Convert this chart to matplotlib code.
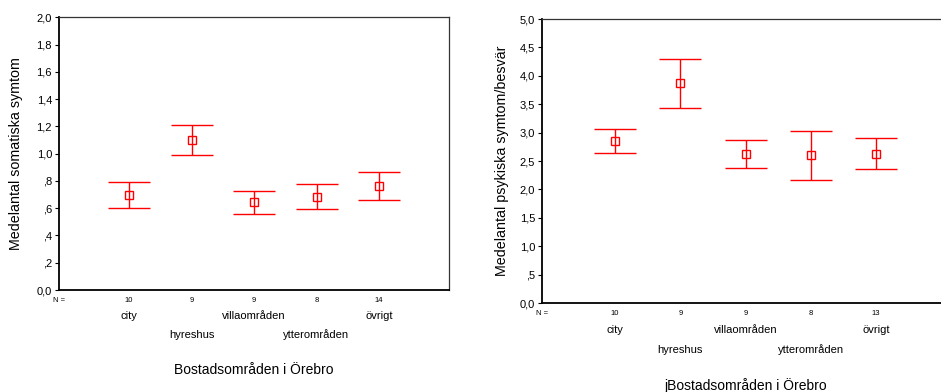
import numpy as np
import matplotlib
matplotlib.use('Agg')
import matplotlib.pyplot as plt

plt.rcParams['font.family'] = ['Liberation Sans', 'DejaVu Sans']

categories = ['city', 'hyreshus', 'villaområden', 'ytterområden', 'övrigt']

# somatiska symtom: mean, lower and upper 95% CI
som_mean = [0.695, 1.10, 0.645, 0.683, 0.763]
som_low = [0.600, 0.988, 0.555, 0.592, 0.661]
som_high = [0.795, 1.212, 0.727, 0.778, 0.868]
som_n = [10, 9, 9, 8, 14]
som_yticks = [0.0, 0.2, 0.4, 0.6, 0.8, 1.0, 1.2, 1.4, 1.6, 1.8, 2.0]
som_ylabels = ['0,0', ',2', ',4', ',6', ',8', '1,0', '1,2', '1,4', '1,6', '1,8', '2,0']

# psykiska symtom/besvär
psy_mean = [2.852, 3.873, 2.623, 2.606, 2.63]
psy_low = [2.64, 3.44, 2.382, 2.16, 2.36]
psy_high = [3.058, 4.30, 2.864, 3.034, 2.91]
psy_n = [10, 9, 9, 8, 13]
psy_yticks = [0.0, 0.5, 1.0, 1.5, 2.0, 2.5, 3.0, 3.5, 4.0, 4.5, 5.0]
psy_ylabels = ['0,0', ',5', '1,0', '1,5', '2,0', '2,5', '3,0', '3,5', '4,0', '4,5', '5,0']

red = '#ff0000'


def errplot(ax, mean, low, high, n, yticks, ylabels, ylabel, xlabel, offs, ylab_x):
    x = np.arange(1, len(categories) + 1)
    mean = np.array(mean)
    yerr = [mean - np.array(low), np.array(high) - mean]
    ax.errorbar(x, mean, yerr=yerr, fmt='s', color=red, ecolor=red,
                mfc='none', mec=red, ms=5.5, mew=1, elinewidth=1,
                capsize=15, capthick=1.1)
    ax.set_xlim(-0.12, 6.12)
    ax.set_ylim(yticks[0], yticks[-1])
    ax.set_yticks(yticks)
    ax.set_yticklabels(ylabels, fontsize=8)
    ax.set_xticks([])
    ax.tick_params(axis='y', length=3, width=0.8, pad=2, direction='out')
    for s in ['left', 'bottom']:
        ax.spines[s].set_linewidth(1.3)
    for s in ['top', 'right']:
        ax.spines[s].set_linewidth(0.9)
        ax.spines[s].set_color('#333333')
    ax.set_ylabel(ylabel, fontsize=10.3)
    ax.yaxis.set_label_coords(ylab_x, 0.5)

    ax.annotate('N =', xy=(0, 0), xycoords='axes fraction', xytext=(0, offs[0]),
                textcoords='offset pixels', ha='center', va='center', fontsize=5.5)
    for xi, ni in zip(x, n):
        ax.annotate(str(ni), xy=(xi, 0), xycoords=('data', 'axes fraction'),
                    xytext=(0, offs[0]), textcoords='offset pixels',
                    ha='center', va='center', fontsize=5.5)
    for i, (xi, c) in enumerate(zip(x, categories)):
        off = offs[1] if i % 2 == 0 else offs[2]
        ax.annotate(c, xy=(xi, 0), xycoords=('data', 'axes fraction'),
                    xytext=(0, off), textcoords='offset pixels',
                    ha='center', va='center', fontsize=8)
    ax.annotate(xlabel, xy=(0.5, 0), xycoords='axes fraction',
                xytext=(0, offs[3]), textcoords='offset pixels',
                ha='center', va='center', fontsize=10)


fig = plt.figure(figsize=(9.41, 3.92), dpi=100)
ax1 = fig.add_axes([0.0627, 0.2602, 0.4145, 0.6952])
ax2 = fig.add_axes([0.576, 0.227, 0.4325, 0.7245])

errplot(ax1, som_mean, som_low, som_high, som_n, som_yticks, som_ylabels,
        'Medelantal somatiska symtom', 'Bostadsområden i Örebro',
        (-10, -26, -45, -80), -0.093)
errplot(ax2, psy_mean, psy_low, psy_high, psy_n, psy_yticks, psy_ylabels,
        'Medelantal psykiska symtom/besvär', 'jBostadsområden i Örebro',
        (-10, -27, -47, -82), -0.081)

fig.savefig('out.png', dpi=100)
